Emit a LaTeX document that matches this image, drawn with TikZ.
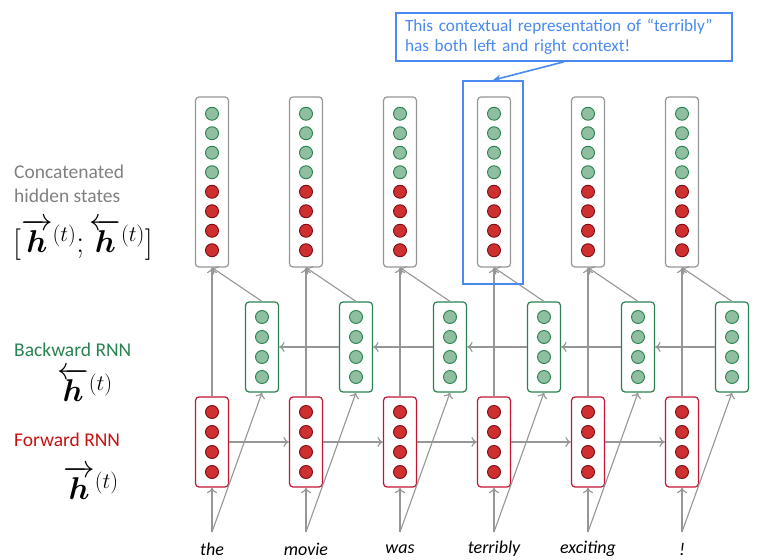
\RequirePackage{fix-cm}
\documentclass[tikz,border=0pt]{standalone}
\usepackage{amsmath,amssymb}
\usepackage{fontspec}
\setmainfont{Carlito}
\usetikzlibrary{positioning}
\usetikzlibrary{arrows.meta}

\definecolor{fwdred}{RGB}{196,20,52}
\definecolor{dotred}{RGB}{206,48,48}
\definecolor{dotredline}{RGB}{130,10,20}
\definecolor{bwdgreen}{RGB}{40,130,80}
\definecolor{dotgreen}{RGB}{143,190,160}
\definecolor{catgray}{RGB}{150,150,150}
\definecolor{linegray}{RGB}{150,150,150}
\definecolor{noteblue}{RGB}{74,138,240}
\definecolor{labelgray}{RGB}{128,128,128}
\definecolor{labelred}{RGB}{200,16,16}

\tikzset{
  vecbox/.style={rounded corners=3.5pt, fill=white, line width=1.2pt,
    minimum width=33pt, inner sep=0pt},
  fwdbox/.style={vecbox, draw=fwdred, minimum height=90pt},
  bwdbox/.style={vecbox, draw=bwdgreen, minimum height=90pt},
  catbox/.style={vecbox, draw=catgray, minimum height=170pt},
  reddot/.style={circle, draw=dotredline, fill=dotred, line width=0.9pt,
    minimum size=13pt, inner sep=0pt},
  greendot/.style={circle, draw=bwdgreen, fill=dotgreen, line width=0.9pt,
    minimum size=13pt, inner sep=0pt},
  conn/.style={draw=linegray, line width=1.1pt, -{To[length=5.5pt,width=10pt]}},
  word/.style={font=\fontsize{18}{22}\selectfont\itshape},
  sidelabel/.style={anchor=west, inner sep=0pt, font=\fontsize{19.5}{24}\selectfont},
  mathlabel/.style={inner sep=0pt, font=\fontsize{31.5}{36}\selectfont},
}

\begin{document}
\begin{tikzpicture}[x=1pt,y=1pt]
\useasboundingbox (0,0) rectangle (778,559);

% columns: boxes and dots
\foreach \w [count=\i from 0] in {the,movie,was,terribly,exciting,!} {
  \pgfmathsetmacro\cx{212+94*\i}
  \node[fwdbox] (f\i) at (\cx,117) {};
  \node[bwdbox] (b\i) at (\cx+50,212) {};
  \node[catbox] (c\i) at (\cx,377) {};
  \foreach \k in {0,...,3} {
    \path (f\i.center) ++(0,30-20*\k) node[reddot] {};
    \path (b\i.center) ++(0,30-20*\k) node[greendot] {};
    \path (c\i.center) ++(0,68.25-19.5*\k) node[greendot] {};
    \path (c\i.center) ++(0,-9.75-19.5*\k) node[reddot] {};
  }
  \node[word] (w\i) at (\cx,10) {\w};
  \coordinate (s\i) at (\cx,27);
}

% connections
\foreach \i in {0,...,5} {
  \draw[conn] (s\i) -- (f\i);
  \draw[conn] (s\i) -- (b\i.south);
  \draw[conn] (f\i) -- (c\i);
  \draw[conn] (b\i.north) -- (c\i.south);
}
\foreach \i [evaluate=\i as \j using int(\i+1)] in {0,...,4} {
  \draw[conn] (f\i) -- (f\j);
  \draw[conn] (b\j) -- (b\i);
}

% highlight and note
\node[draw=noteblue, line width=1.8pt, minimum width=60pt, minimum height=203pt]
  (hl) at (493,376.5) {};
\node[draw=noteblue, line width=1.6pt, fill=white, text=noteblue, align=left,
  text width=318pt, inner xsep=9pt, minimum height=48pt,
  font=\fontsize{17.2}{20.5}\selectfont] (note) at (564,522)
  {This contextual representation of “terribly”\\has both left and right context!};
\draw[noteblue, line width=1.6pt, -{Stealth[length=8pt,width=7pt]}] (note.south) -- (hl.north);

% side labels
\node[sidelabel, text=labelgray] (cat1) at (14,387) {Concatenated};
\node[sidelabel, text=labelgray] (cat2) at (14,363) {hidden states};
\node[mathlabel] (catm) at (83,319)
  {$[\overrightarrow{\boldsymbol{h}}^{(t)};\overleftarrow{\boldsymbol{h}}^{(t)}]$};
\node[sidelabel, text=bwdgreen] (bwd) at (14,209) {Backward RNN};
\node[mathlabel] (bwdm) at (85,174) {$\overleftarrow{\boldsymbol{h}}^{(t)}$};
\node[sidelabel, text=labelred] (fwd) at (14,119) {Forward RNN};
\node[mathlabel] (fwdm) at (91,76) {$\overrightarrow{\boldsymbol{h}}^{(t)}$};
\node[text=labelgray, font=\fontsize{13}{15}\selectfont] (pg) at (36,-6) {37};
\end{tikzpicture}
\end{document}
